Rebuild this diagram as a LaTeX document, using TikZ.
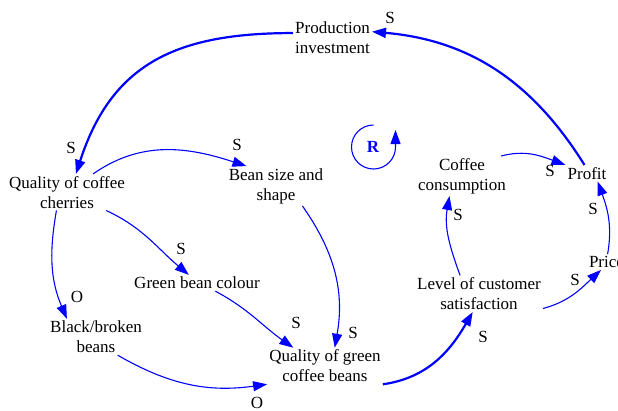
\documentclass[tikz,border=0pt]{standalone}
\usepackage{fontspec}
\setmainfont{Liberation Serif}
\usetikzlibrary{arrows.meta}
\definecolor{linkblue}{RGB}{0,0,255}
\begin{document}
\begin{tikzpicture}[x=1pt,y=1pt,
  var/.style={align=center,inner sep=2pt,font=\fontsize{17}{20}\selectfont},
  pol/.style={inner sep=0pt,font=\fontsize{17}{20}\selectfont},
  link/.style={draw=linkblue,line width=1.1pt,-{Triangle[length=14pt,width=10pt]},fill=none},
  strong/.style={link,line width=2.2pt},
]
\useasboundingbox (0,0) rectangle (618,-410);

% variables
\node[var] (prod)   at (332.5,-37.2) {Production\\investment};
\node[var] (qcc)    at (67,-192.2)   {Quality of coffee\\cherries};
\node[var] (bss)    at (276,-186)    {Bean size and\\shape};
\node[var] (gbc)    at (197,-283)    {Green bean colour};
\node[var] (bbb)    at (96,-337)     {Black/broken\\beans};
\node[var] (qgcb)   at (325,-366)    {Quality of green\\coffee beans};
\node[var] (lcs)    at (479,-293.7)  {Level of customer\\satisfaction};
\node[var] (cc)     at (462,-176)    {Coffee\\consumption};
\node[var] (profit) at (587,-173.2)  {Profit};
\node[var] (price)  at (606.5,-262)  {Price};

% causal links
\draw[strong] (profit.107) to[out=122,in=-5] (prod.8);
\draw[strong] (prod.174) to[out=180,in=72,looseness=1.15] (qcc.64);
\draw[link] (qcc.35) to[out=35,in=162] (bss.146);
\draw[link] (qcc.-25) to[out=-25,in=140] (gbc.135);
\draw[link] (qcc.-120) to[out=-100,in=113] (bbb.148);
\draw[link] (bss.-37) to[out=-55,in=80] (qgcb.62);
\draw[link] (gbc.-24) to[out=-28,in=145] (qgcb.150);
\draw[link] (bbb.-40) to[out=-30,in=188] (qgcb.south west);
\draw[strong] (qgcb.south east) to[out=8,in=-120] (lcs.-109);
\draw[link] (lcs.136) to[out=110,in=-100] (cc.-122);
\draw[link] (lcs.-13.5) to[out=15,in=223] (price.-125);
\draw[link] (price.82) to[out=80,in=-70] (profit.-38);
\draw[link] (cc.27) to[out=15,in=160] (profit.north west);

% polarities
\node[pol] (p1)  at (390,-18)  {S};
\node[pol] (p2)  at (71,-148)  {S};
\node[pol] (p3)  at (237,-145) {S};
\node[pol] (p4)  at (550,-171) {S};
\node[pol] (p5)  at (593,-209) {S};
\node[pol] (p6)  at (458,-215) {S};
\node[pol] (p7)  at (181,-249) {S};
\node[pol] (p8)  at (77,-297)  {O};
\node[pol] (p9)  at (575,-280) {S};
\node[pol] (p10) at (296,-323) {S};
\node[pol] (p11) at (353,-333) {S};
\node[pol] (p12) at (483,-337) {S};
\node[pol] (p13) at (257,-403) {O};

% reinforcing loop marker
\node[pol,text=linkblue,font=\fontsize{17}{20}\selectfont\bfseries] (loop) at (373,-147) {R};
\coordinate (looptop) at (373.5,-125);
\draw[link] (looptop) arc[start angle=90,end angle=360,radius=22] -- ++(0,17);
\end{tikzpicture}
\end{document}
